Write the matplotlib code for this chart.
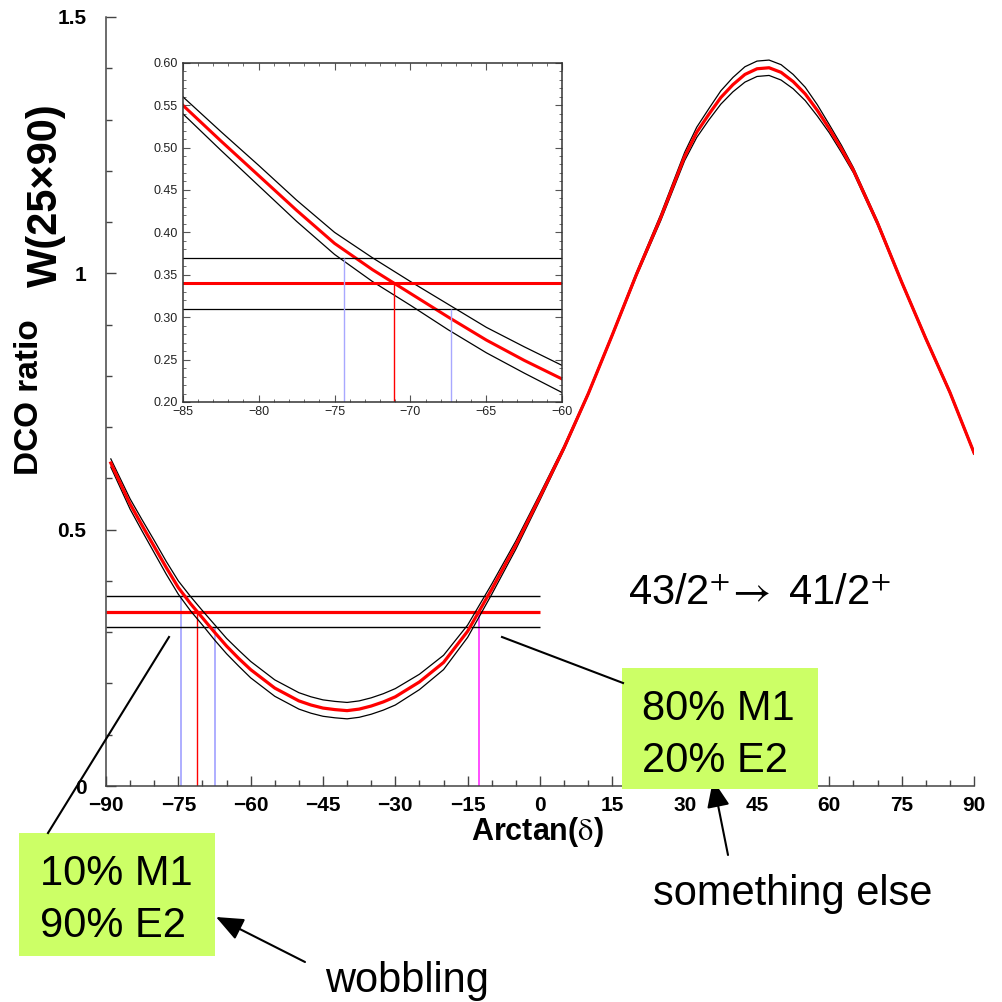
"""
DCO ratio W(25x90) vs arctan(delta) for the 43/2+ -> 41/2+ transition,
with the measured ratio band and a zoomed inset around the E2-like solution.
"""
import matplotlib; matplotlib.use("Agg")
import matplotlib.pyplot as plt
from matplotlib.patches import Rectangle
from matplotlib.lines import Line2D
from matplotlib.ticker import MultipleLocator

plt.rcParams["font.family"] = ["Liberation Sans", "DejaVu Sans"]
plt.rcParams["mathtext.fontset"] = "stix"

# calculated DCO ratio (red) and its uncertainty band (black)
ATAN = [-89, -85, -82.5, -80, -77.5, -75, -72.5, -70, -67.5, -65, -62.5, -60,
        -55, -50, -47.5, -45, -42.5, -40, -37.5, -35, -32.5, -30, -25, -20,
        -15, -10, -5, 0, 5, 10, 15, 20, 25, 30, 32.5, 35, 37.5, 40, 42.5, 45,
        47.5, 50, 52.5, 55, 57.5, 60, 62.5, 65, 70, 75, 80, 85, 90]
DCO = [0.630, 0.550, 0.508, 0.467, 0.426, 0.387, 0.356, 0.328, 0.300, 0.273,
       0.249, 0.227, 0.191, 0.166, 0.158, 0.152, 0.149, 0.147, 0.150, 0.156,
       0.164, 0.174, 0.203, 0.241, 0.302, 0.384, 0.470, 0.564, 0.660, 0.765,
       0.880, 0.998, 1.108, 1.228, 1.275, 1.310, 1.343, 1.368, 1.388, 1.399,
       1.401, 1.392, 1.374, 1.350, 1.318, 1.282, 1.243, 1.201, 1.098, 0.983,
       0.873, 0.768, 0.650]
DCO_HI = [0.638, 0.560, 0.519, 0.479, 0.438, 0.400, 0.370, 0.342, 0.315, 0.288,
          0.265, 0.243, 0.207, 0.182, 0.174, 0.168, 0.165, 0.163, 0.166, 0.172,
          0.180, 0.190, 0.218, 0.255, 0.314, 0.394, 0.478, 0.570, 0.664, 0.768,
          0.883, 1.002, 1.114, 1.236, 1.285, 1.321, 1.356, 1.382, 1.403, 1.414,
          1.416, 1.407, 1.388, 1.363, 1.329, 1.290, 1.250, 1.206, 1.102, 0.986,
          0.876, 0.771, 0.653]
DCO_LO = [0.622, 0.540, 0.497, 0.455, 0.413, 0.374, 0.342, 0.314, 0.285, 0.258,
          0.234, 0.211, 0.175, 0.150, 0.142, 0.136, 0.133, 0.131, 0.134, 0.140,
          0.148, 0.158, 0.188, 0.227, 0.290, 0.374, 0.462, 0.558, 0.656, 0.762,
          0.877, 0.994, 1.102, 1.220, 1.265, 1.299, 1.330, 1.354, 1.373, 1.384,
          1.386, 1.377, 1.360, 1.337, 1.307, 1.274, 1.236, 1.196, 1.094, 0.980,
          0.870, 0.765, 0.647]

# measured DCO ratio with error
EXP = 0.34
EXP_HI = 0.37
EXP_LO = 0.31
# solutions (arctan delta) where the curves meet the measurement
SOL_E2 = -71.1
SOL_E2_LO, SOL_E2_HI = -74.4, -67.3
SOL_M1 = -12.7

BLUE = "#a8a8ff"
GREEN = "#ccff66"
W = H = 1002


def fxy(px, py):
    # reference pixel (top-left origin) -> figure fraction
    return px / W, 1 - py / H


fig = plt.figure(figsize=(W / 100, H / 100), dpi=100)

# ---- main panel ----
ax = fig.add_axes([106 / W, 1 - 786 / H, 868 / W, 769 / H])
ax.plot(ATAN, DCO_HI, color="k", lw=0.9, zorder=3)
ax.plot(ATAN, DCO_LO, color="k", lw=0.9, zorder=3)
ax.plot(ATAN, DCO, color="red", lw=2.3, zorder=4)
ax.hlines([EXP_HI, EXP_LO], -90, 0, color="k", lw=1.0, zorder=2)
ax.hlines(EXP, -90, 0, color="red", lw=2.3, zorder=2)
ax.vlines([SOL_E2_LO], 0, EXP_HI, color=BLUE, lw=1.3, zorder=1)
ax.vlines([SOL_E2_HI], 0, EXP_LO, color=BLUE, lw=1.3, zorder=1)
ax.vlines(SOL_E2, 0, EXP, color="red", lw=1.0, zorder=1)
ax.vlines(SOL_M1, 0, EXP, color="#ff40ff", lw=1.3, zorder=1)
ax.set_xlim(-90, 90); ax.set_ylim(0, 1.5)
for s in ["top", "right"]:
    ax.spines[s].set_visible(False)
for s in ["left", "bottom"]:
    ax.spines[s].set_color("#444444"); ax.spines[s].set_linewidth(1.1)
ax.xaxis.set_major_locator(MultipleLocator(15)); ax.xaxis.set_minor_locator(MultipleLocator(5))
ax.yaxis.set_major_locator(MultipleLocator(0.5)); ax.yaxis.set_minor_locator(MultipleLocator(0.1))
ax.set_yticks([0, 0.5, 1, 1.5], ["0", "0.5", "1", "1.5"])
ax.tick_params(which="both", direction="in", color="#444444", width=1.0,
               top=False, right=False)
ax.tick_params(which="major", length=7)
ax.tick_params(which="minor", length=4)
ax.tick_params(axis="x", labelsize=15, pad=7)
ax.tick_params(axis="y", labelsize=15, pad=14)
for t in ax.get_xticklabels() + ax.get_yticklabels():
    t.set_fontweight("bold")

fig.text(*fxy(30, 397), "DCO ratio", rotation=90, ha="center", va="center",
         fontsize=24, fontweight="bold")
fig.text(*fxy(46, 195), "W(25\u00d790)", rotation=90, ha="center", va="center",
         fontsize=30, fontweight="bold")
fig.text(*fxy(537, 832), r"Arctan($\mathrm{\delta}$)", ha="center", va="center",
         fontsize=22, fontweight="bold")

# ---- inset ----
ins = fig.add_axes([182.7 / W, 1 - 402 / H, 379.6 / W, 339.3 / H])
ins.plot(ATAN, DCO_HI, color="k", lw=0.9)
ins.plot(ATAN, DCO_LO, color="k", lw=0.9)
ins.plot(ATAN, DCO, color="red", lw=2.2)
ins.axhline(EXP_HI, color="k", lw=0.9)
ins.axhline(EXP_LO, color="k", lw=0.9)
ins.axhline(EXP, color="red", lw=2.2)
ins.vlines(SOL_E2_LO, 0.2, EXP_HI, color=BLUE, lw=1.0)
ins.vlines(SOL_E2_HI, 0.2, EXP_LO, color=BLUE, lw=1.0)
ins.vlines(SOL_E2, 0.2, EXP, color="red", lw=1.0)
ins.set_xlim(-85, -60); ins.set_ylim(0.20, 0.60)
ins.xaxis.set_major_locator(MultipleLocator(5)); ins.xaxis.set_minor_locator(MultipleLocator(1))
ins.yaxis.set_major_locator(MultipleLocator(0.05)); ins.yaxis.set_minor_locator(MultipleLocator(0.01))
ins.yaxis.set_major_formatter(plt.FormatStrFormatter("%.2f"))
ins.tick_params(which="both", direction="in", top=True, right=True,
                color="#555555", labelsize=9, labelcolor="#222222")
ins.tick_params(which="major", length=5)
ins.tick_params(which="minor", length=2.5)
ins.tick_params(axis="x", pad=3)
for s in ins.spines.values():
    s.set_color("#333333"); s.set_linewidth(1.1)

# ---- annotations ----
fig.text(*fxy(628, 605), r"43/2$^{+}\!\rightarrow$ 41/2$^{+}$", fontsize=30,
         va="baseline")

for (x0, y0, x1, y1), lines, tx, bases in [
        ((622, 668, 818, 789), ["80% M1", "20% E2"], 642, [720, 772]),
        ((19, 833, 215, 956), ["10% M1", "90% E2"], 40, [885, 937])]:
    fig.add_artist(Rectangle(fxy(x0, y1), (x1 - x0) / W, (y1 - y0) / H,
                             transform=fig.transFigure, facecolor=GREEN,
                             edgecolor="none"))
    for txt, b in zip(lines, bases):
        fig.text(*fxy(tx, b), txt, fontsize=30, va="baseline")

for (xa, ya, xb, yb) in [(48, 833, 169, 637), (623, 683, 502, 637)]:
    p, q = fxy(xa, ya), fxy(xb, yb)
    fig.add_artist(Line2D([p[0], q[0]], [p[1], q[1]], transform=fig.transFigure,
                          color="k", lw=1.5))

for head, tail in [((713, 780), (728, 855)), ((216, 917), (305, 962))]:
    ax.annotate("", xy=fxy(*head), xytext=fxy(*tail), xycoords="figure fraction",
                textcoords="figure fraction", annotation_clip=False,
                arrowprops=dict(arrowstyle="-|>,head_length=0.6,head_width=0.25",
                                color="k", lw=1.5, mutation_scale=28,
                                shrinkA=0, shrinkB=0))

fig.text(*fxy(653, 905), "something else", fontsize=30, va="baseline")
fig.text(*fxy(325, 992), "wobbling", fontsize=30, va="baseline")

fig.savefig("out.png", dpi=100, facecolor="white")
